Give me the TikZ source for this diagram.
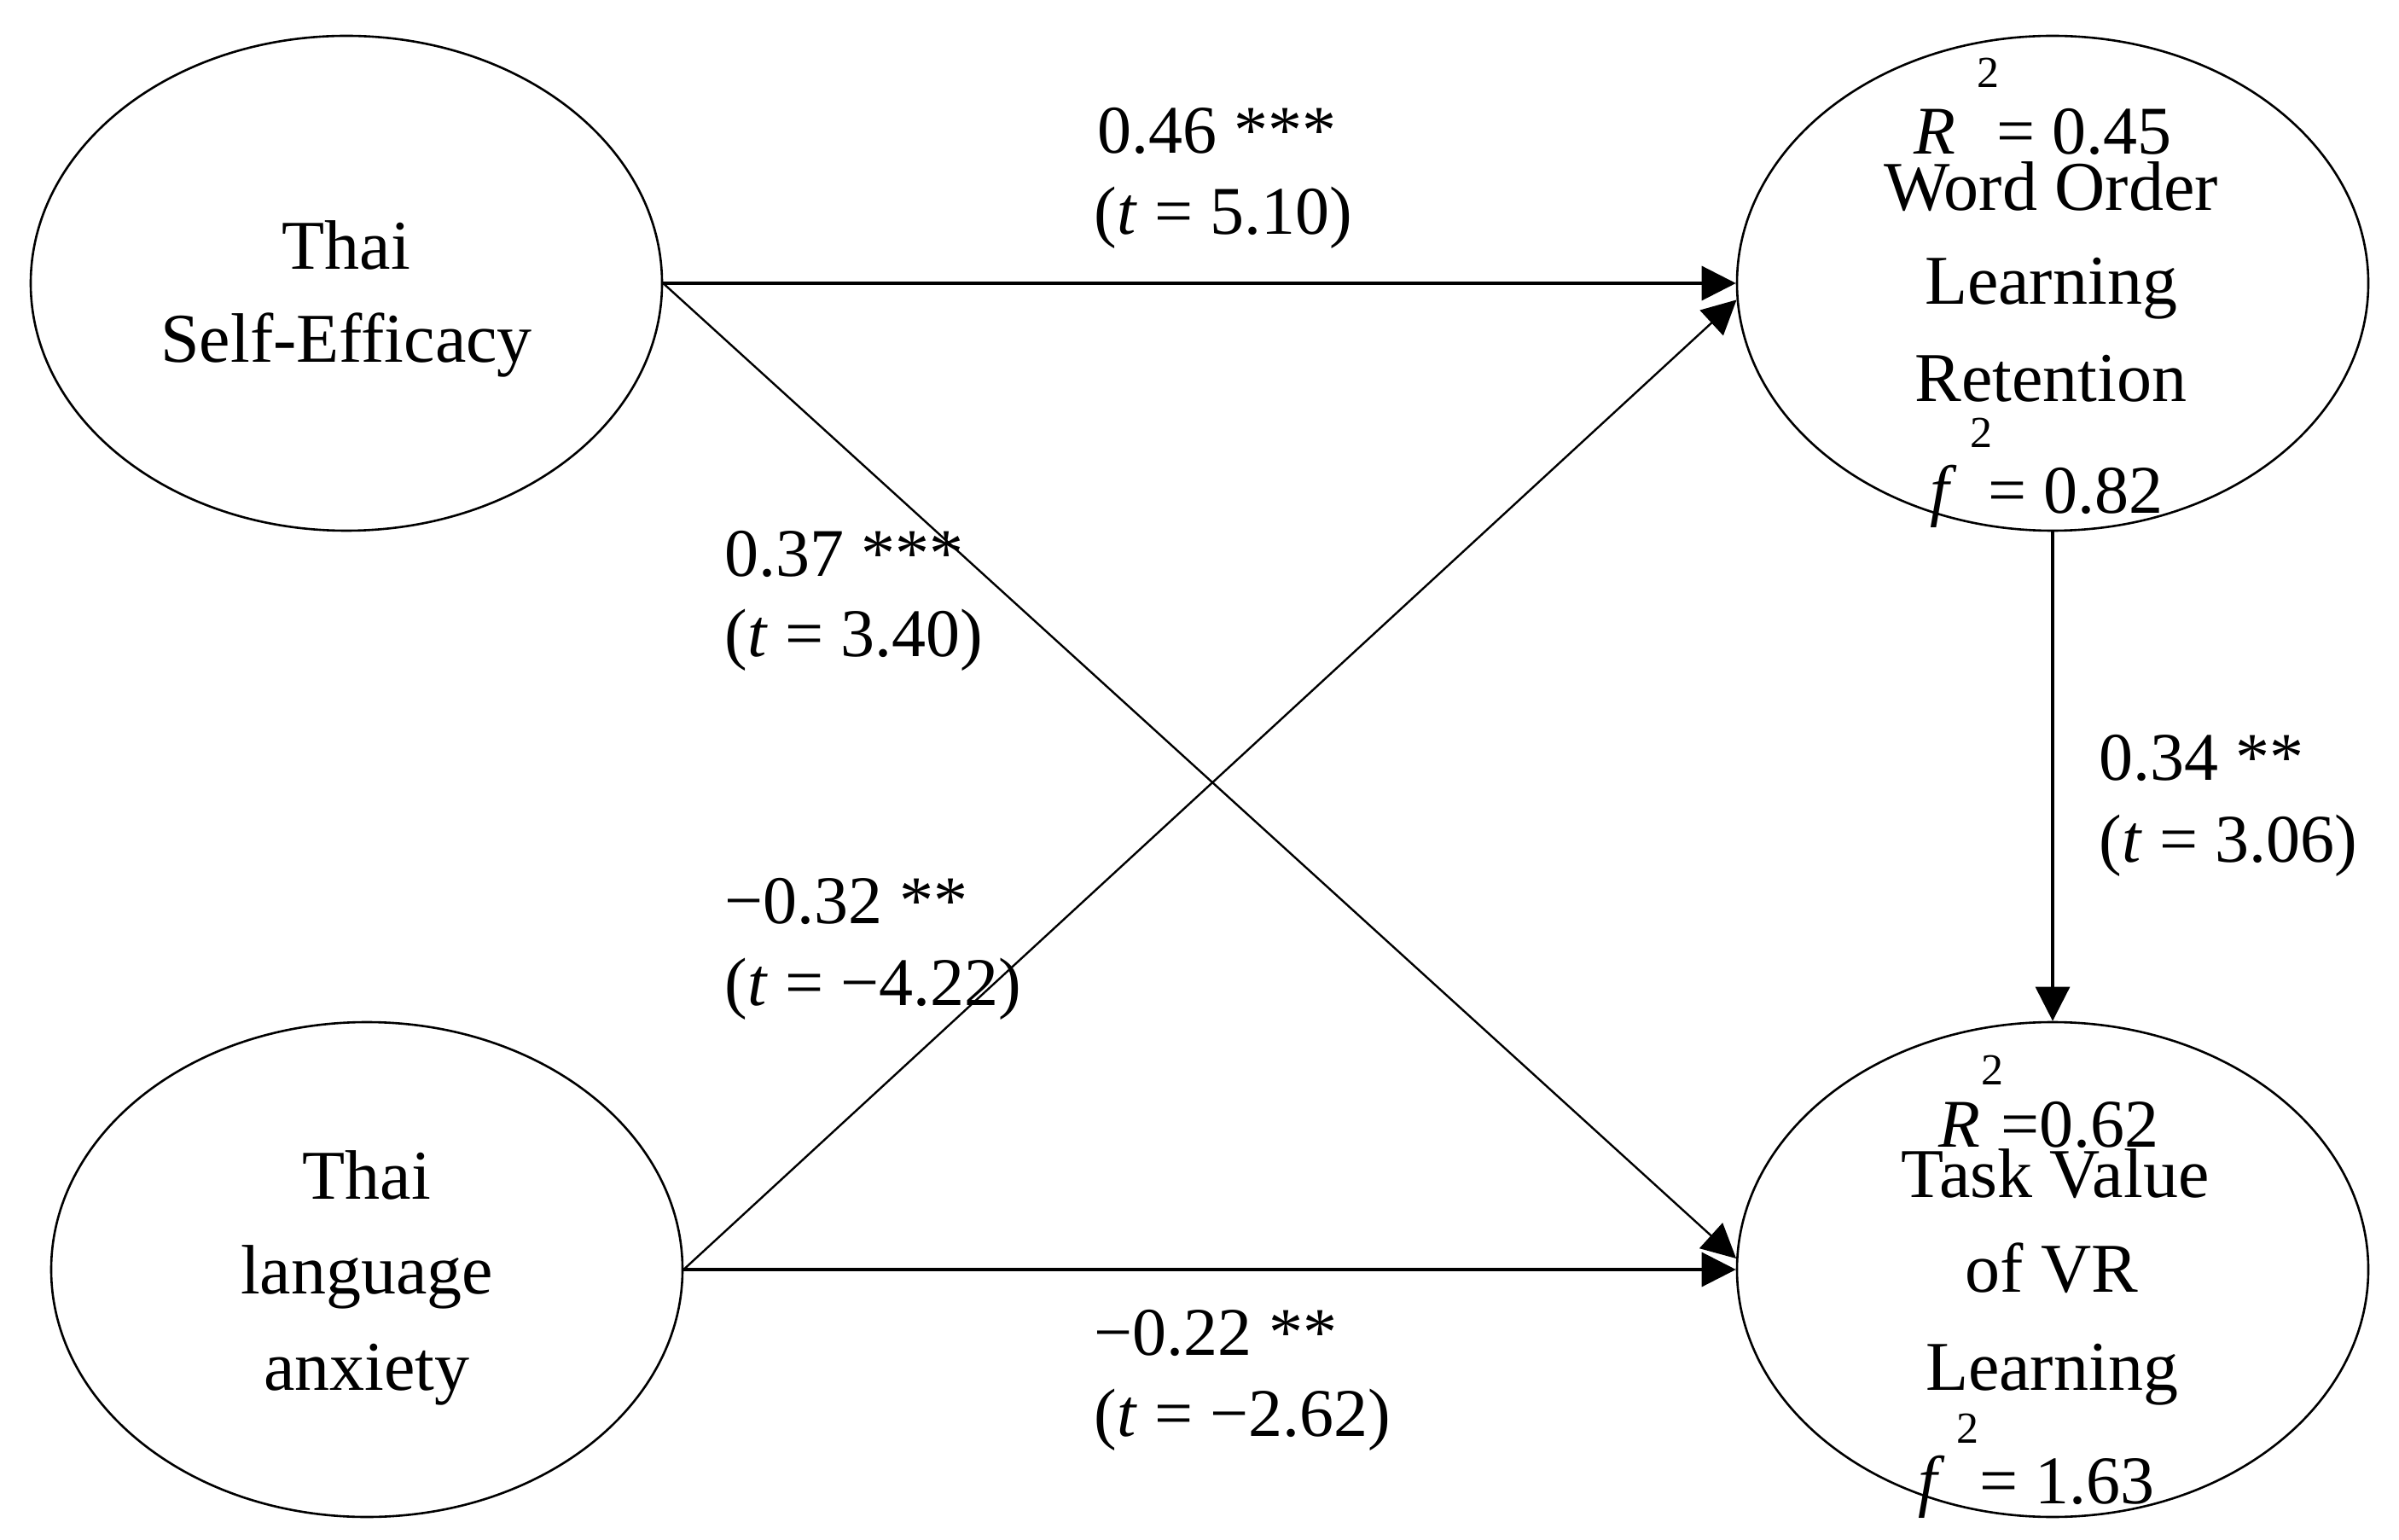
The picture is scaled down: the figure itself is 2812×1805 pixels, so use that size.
\documentclass[tikz,border=0pt]{standalone}
\usepackage{fontspec}
\setmainfont{Liberation Serif}
\usetikzlibrary{shapes.geometric,arrows.meta}
\begin{document}
\begin{tikzpicture}[x=0.25pt,y=-0.25pt,
  ell/.style={draw, ellipse, line width=0.65pt, minimum width=185pt, minimum height=145pt, inner sep=0pt},
  ntxt/.style={inner sep=0pt, anchor=base, font=\fontsize{20.5}{24}\selectfont},
  stat/.style={inner sep=0pt, anchor=base west, font=\fontsize{20}{24}\selectfont},
  lbl/.style={inner sep=0pt, anchor=base west, font=\fontsize{20}{24}\selectfont},
  sq/.style={inner sep=0pt, font=\fontsize{13}{15}\selectfont},
  arr/.style={-{Triangle[length=10pt,width=10pt]}, line width=0.8pt},
  darr/.style={-{Triangle[length=10pt,width=10pt]}, line width=0.6pt}]
\fill[white] (0,0) rectangle (2812,1805);
\useasboundingbox (0,0) rectangle (2812,1805);

% ellipses
\node[ell] (se) at (406,332) {};
\node[ell] (la) at (430,1488) {};
\node[ell] (wo) at (2406,332) {};
\node[ell] (tv) at (2406,1488) {};

% text in Thai Self-Efficacy
\node[ntxt] (se1) at (406,316) {Thai};
\node[ntxt] (se2) at (406,425) {Self-Efficacy};

% text in Thai language anxiety
\node[ntxt] (la1) at (430,1405) {Thai};
\node[ntxt] (la2) at (430,1516) {language};
\node[ntxt] (la3) at (430,1629) {anxiety};

% text in Word Order Learning Retention
\node[sq] (wosq1) at (2330,85) {2};
\node[stat] (wor) at (2243,181) {\textit{R}\hspace{12pt}= 0.45};
\node[ntxt] (wo1) at (2404,247) {Word Order};
\node[ntxt] (wo2) at (2404,357) {Learning};
\node[ntxt] (wo3) at (2404,471) {Retention};
\node[sq] (wosq2) at (2322,507) {2};
\node[stat] (wof) at (2262,602) {\textit{f}\hspace{9pt}= 0.82};

% text in Task Value of VR Learning
\node[sq] (tvsq1) at (2335,1254) {2};
\node[stat] (tvr) at (2272,1344) {\textit{R}\hspace{6pt}=0.62};
\node[ntxt] (tv1) at (2409,1403) {Task Value};
\node[ntxt] (tv2) at (2405,1514) {of VR};
\node[ntxt] (tv3) at (2405,1629) {Learning};
\node[sq] (tvsq2) at (2306,1674) {2};
\node[stat] (tvf) at (2248,1762) {\textit{f}\hspace{10pt}= 1.63};

% connectors
\draw[arr] (se.east) -- (wo.west);
\draw[arr] (la.east) -- (tv.west);
\draw[arr] (wo.south) -- (tv.north);
\draw[darr] (se.east) -- (tv.178);
\draw[darr] (la.east) -- (wo.183);

% path labels
\node[lbl] (l1a) at (1286,180) {0.46 ***};
\node[lbl] (l1b) at (1282,275) {(\textit{t} = 5.10)};
\node[lbl] (l2a) at (849,676) {0.37 ***};
\node[lbl] (l2b) at (849,770) {(\textit{t} = 3.40)};
\node[lbl] (l3a) at (849,1082) {−0.32 **};
\node[lbl] (l3b) at (849,1178) {(\textit{t} = −4.22)};
\node[lbl] (l4a) at (1282,1588) {−0.22 **};
\node[lbl] (l4b) at (1282,1683) {(\textit{t} = −2.62)};
\node[lbl] (l5a) at (2460,915) {0.34 **};
\node[lbl] (l5b) at (2460,1010) {(\textit{t} = 3.06)};
\end{tikzpicture}
\end{document}
